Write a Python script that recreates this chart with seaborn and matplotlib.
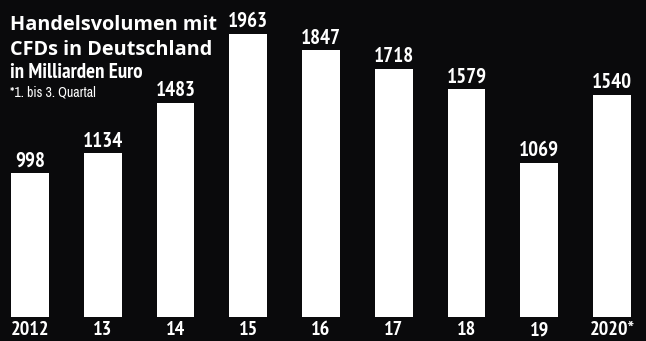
import matplotlib
matplotlib.use("Agg")
import matplotlib.pyplot as plt
from matplotlib import font_manager as fm
import seaborn as sns
import pandas as pd

years = ["2012", "13", "14", "15", "16", "17", "18", "19", "2020*"]
volumes = [998, 1134, 1483, 1963, 1847, 1718, 1579, 1069, 1540]

sns.set_theme(style="white")
plt.rcParams["font.family"] = ["DejaVu Sans"]

# find a condensed / narrow font file
cands_bold, cands_reg = [], []
for f in fm.fontManager.ttflist:
    key = (f.name + " " + str(f.stretch) + " " + f.fname).lower()
    if "condensed" in key or "narrow" in key:
        w = f.weight if isinstance(f.weight, int) else (700 if "bold" in str(f.weight).lower() else 400)
        if "oblique" in f.fname.lower() or "italic" in f.fname.lower() or f.style != "normal":
            continue
        if w >= 600:
            cands_bold.append(f.fname)
        else:
            cands_reg.append(f.fname)
cands_bold.sort(key=lambda p: (0 if "narrow" in p.lower() else 1, p))
cands_reg.sort(key=lambda p: (0 if "narrow" in p.lower() else 1, p))
if cands_bold:
    cb = fm.FontProperties(fname=cands_bold[0])
else:
    cb = fm.FontProperties(family="DejaVu Sans", weight="bold")
if cands_reg:
    cr = fm.FontProperties(fname=cands_reg[0])
else:
    cr = fm.FontProperties(family="DejaVu Sans")

bg = "#0a0a0c"
fig = plt.figure(figsize=(6.46, 3.41), dpi=100, facecolor=bg)
ax = fig.add_axes([0, 0.0704, 1, 0.9296])
ax.set_facecolor(bg)

df = pd.DataFrame({"year": years, "vol": volumes})
sns.barplot(data=df, x="year", y="vol", color="white", width=0.52,
            saturation=1, ax=ax, edgecolor="none")

ax.set_xlim(-0.412, 8.467)
ax.set_ylim(0, 2197)
for s in ax.spines.values():
    s.set_visible(False)
ax.set_yticks([])
ax.set_xlabel("")
ax.set_ylabel("")
ax.tick_params(axis="x", length=0, pad=3, colors="white")
for lab in ax.get_xticklabels():
    lab.set_fontproperties(cb)
    lab.set_fontsize(14.5)

for i, v in enumerate(volumes):
    ax.annotate(str(v), (i, v), xytext=(0, 2), textcoords="offset points",
                ha="center", va="bottom", color="white",
                fontproperties=cb, fontsize=15)

tf = ["Open Sans", "DejaVu Sans"]
fig.text(10/646, 1 - 30/341, "Handelsvolumen mit", color="white", fontsize=14.3,
         fontweight="bold", family=tf, va="baseline")
fig.text(10/646, 1 - 55/341, "CFDs in Deutschland", color="white", fontsize=14.3,
         fontweight="bold", family=tf, va="baseline")
fig.text(10/646, 1 - 78/341, "in Milliarden Euro", color="white",
         fontproperties=cb, fontsize=15, va="baseline")
fig.text(10/646, 1 - 97/341, "*1. bis 3. Quartal", color="white",
         fontproperties=cr, fontsize=10, va="baseline")

fig.savefig("out.png", dpi=100, facecolor=bg)
